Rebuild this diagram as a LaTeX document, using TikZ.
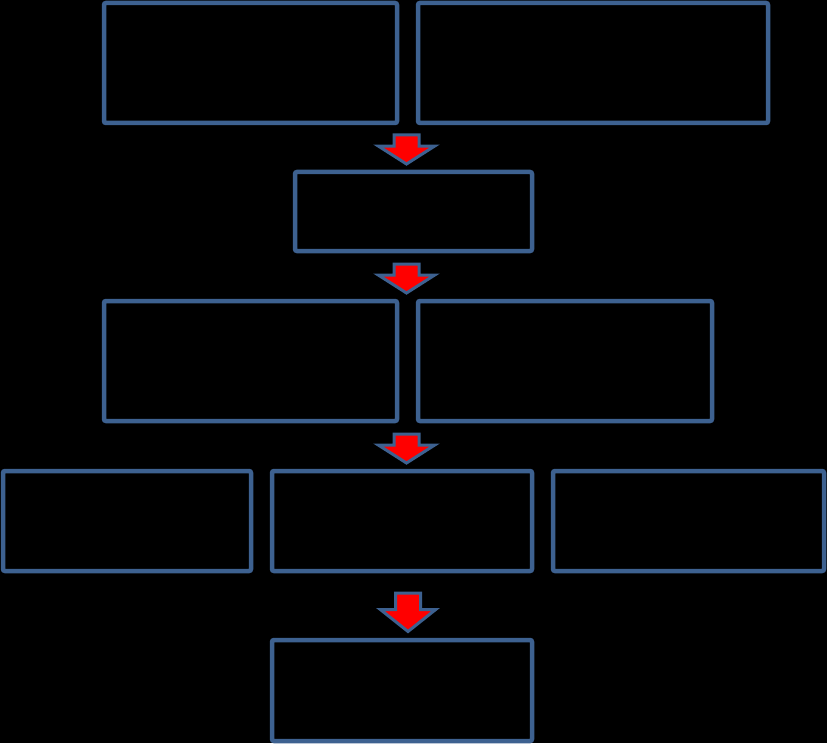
\documentclass[tikz,border=0pt]{standalone}
\usepackage{tikz}
\usetikzlibrary{shapes.arrows}
\definecolor{BoxBlue}{HTML}{3D6190}
\definecolor{ArrowRed}{HTML}{FF0000}

\begin{document}
\begin{tikzpicture}[x=1pt,y=-1pt,
    box/.style={draw=BoxBlue,line width=4.5pt,rounded corners=2pt,inner sep=0pt},
    darr/.style={single arrow,draw=BoxBlue,fill=ArrowRed,line width=3pt,
                 rotate=-90,anchor=tail,inner sep=0pt,inner ysep=11pt,
                 minimum height=29pt,single arrow head extend=15.5pt,
                 single arrow tip angle=115}]
    \fill[black] (0,0) rectangle (827,743);
    % first row
    \node[box,minimum width=293pt,minimum height=120pt] (topleft) at (250.5,63) {};
    \node[box,minimum width=350pt,minimum height=120pt] (topright) at (593,63) {};
    \node[box,minimum width=237pt,minimum height=79pt] (middle) at (413.5,211.5) {};
    \node[box,minimum width=293pt,minimum height=120pt] (midleft) at (250.5,361) {};
    \node[box,minimum width=294pt,minimum height=120pt] (midright) at (565,361) {};
    % three boxes
    \node[box,minimum width=248pt,minimum height=100pt] (lowleft) at (127,521) {};
    \node[box,minimum width=260pt,minimum height=100pt] (lowmid) at (402,521) {};
    \node[box,minimum width=271pt,minimum height=100pt] (lowright) at (688.5,521) {};
    \node[box,minimum width=260pt,minimum height=101pt] (final) at (402,690.5) {};
    % arrows
    \node[darr] (arrA) at (406.5,133.5) {};
    \node[darr] (arrB) at (406.5,262.5) {};
    \node[darr] (arrC) at (406.5,432.5) {};
    \node[darr,minimum height=38.5pt,single arrow head extend=15pt,
          single arrow tip angle=103] (arrD) at (408,591.5) {};
\end{tikzpicture}
\end{document}
